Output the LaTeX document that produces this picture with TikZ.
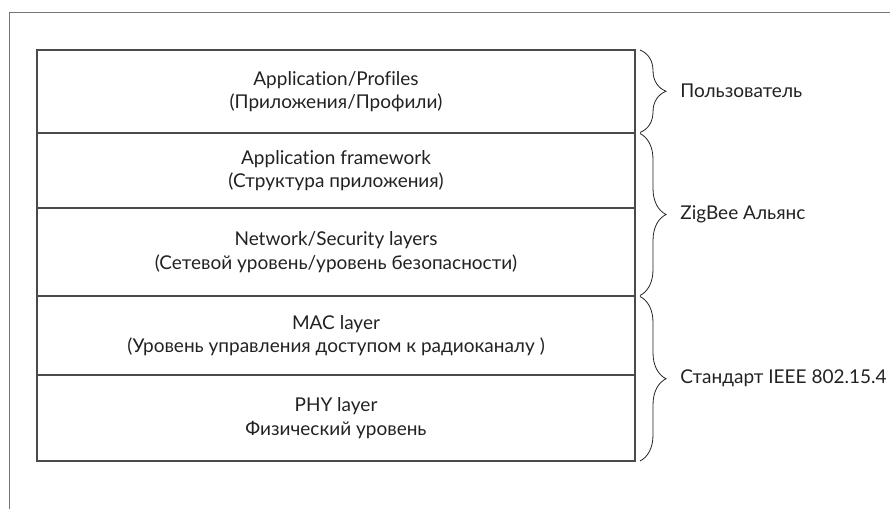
\documentclass[tikz,border=0pt]{standalone}
\usepackage{fontspec}
\setmainfont{Lato}[Ligatures={NoCommon}]
\usepackage{tikz}
\usetikzlibrary{positioning}
\usetikzlibrary{calc}
\usetikzlibrary{decorations.pathreplacing}

\definecolor{framegray}{HTML}{757575}
\definecolor{boxgray}{HTML}{4A4A4A}
\definecolor{inkdark}{HTML}{222222}

\begin{document}
\begin{tikzpicture}[
    x=1pt, y=1pt,
    layer/.style={
        draw=boxgray,
        line width=1.1pt,
        minimum width=598pt,
        inner sep=0pt,
        outer sep=0pt,
        align=center,
        text=inkdark,
        font=\fontsize{19}{23.5}\selectfont
    },
    bracket/.style={
        draw=inkdark,
        line width=0.8pt,
        decorate,
        decoration={brace, amplitude=26pt}
    },
    bracelabel/.style={
        right=40pt,
        inner sep=0pt,
        text=inkdark,
        font=\fontsize{19}{23.5}\selectfont
    }
]

    % Page frame
    \useasboundingbox (0,0) rectangle (890,-509);
    \draw[framegray, line width=1pt] (9,-509) -- (9,-12) -- (890,-12);

    % Layers
    \node[layer, minimum height=83pt, anchor=north west] (app) at (37,-50)
        {Application/Profiles\\(Приложения/Профили)};
    \node[layer, minimum height=75pt, below=0pt of app] (frame)
        {Application framework\\(Структура приложения)};
    \node[layer, minimum height=88pt, below=0pt of frame] (net)
        {Network/Security layers\\(Сетевой уровень/уровень безопасности)};
    \node[layer, minimum height=79pt, below=0pt of net] (mac)
        {MAC layer\\(Уровень управления доступом к радиоканалу )};
    \node[layer, minimum height=86pt, below=0pt of mac] (phy)
        {PHY layer\\Физический уровень};

    % Braces
    \draw[bracket] ($(app.north east)+(5,0)$) -- ($(app.south east)+(5,0.5)$)
        node[midway, bracelabel] (user) {Пользователь};
    \draw[bracket] ($(frame.north east)+(5,-0.5)$) -- ($(net.south east)+(5,0.5)$)
        node[midway, bracelabel] (zigbee) {ZigBee Альянс};
    \draw[bracket] ($(mac.north east)+(5,-0.5)$) -- ($(phy.south east)+(5,0)$)
        node[midway, bracelabel] (ieee) {Стандарт IEEE 802.15.4};

\end{tikzpicture}
\end{document}
